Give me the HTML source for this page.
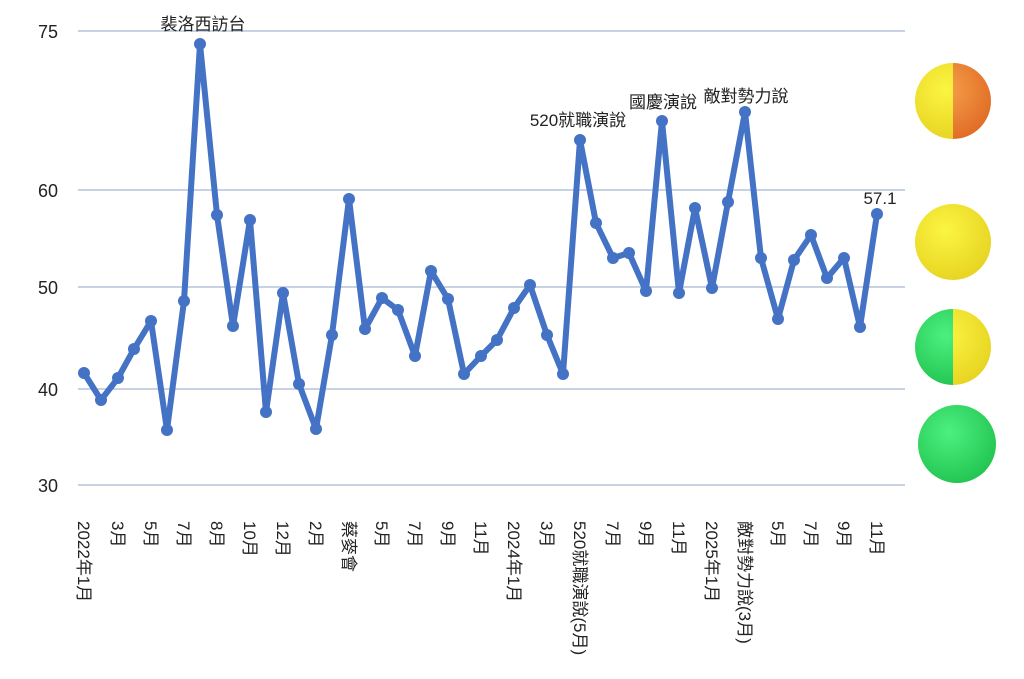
<!DOCTYPE html>
<html><head><meta charset="utf-8"><style>
body{margin:0;background:#fff}
svg{display:block;font-family:"Liberation Sans","Noto Sans CJK TC",sans-serif}
</style></head><body>
<svg width="1024" height="679" viewBox="0 0 1024 679">
<defs>
<radialGradient id="gy" cx="40%" cy="35%" r="70%"><stop offset="0" stop-color="#fbf542"/><stop offset="1" stop-color="#e7d321"/></radialGradient>
<radialGradient id="gg" cx="40%" cy="35%" r="70%"><stop offset="0" stop-color="#4cf07f"/><stop offset="1" stop-color="#22c450"/></radialGradient>
<radialGradient id="go" cx="40%" cy="35%" r="70%"><stop offset="0" stop-color="#f5a24a"/><stop offset="1" stop-color="#e06a25"/></radialGradient>
<clipPath id="L"><rect x="900" y="0" width="53" height="679"/></clipPath>
<clipPath id="R"><rect x="953" y="0" width="71" height="679"/></clipPath>
</defs>
<g stroke="#8fa7c4" stroke-width="1">
<line x1="78" y1="31" x2="905" y2="31"/><line x1="78" y1="190" x2="905" y2="190"/>
<line x1="78" y1="287" x2="905" y2="287"/><line x1="78" y1="389" x2="905" y2="389"/>
<line x1="78" y1="485" x2="905" y2="485"/>
</g>
<g font-size="18" fill="#222" text-anchor="end">
<text x="58" y="38">75</text><text x="58" y="197">60</text><text x="58" y="294">50</text><text x="58" y="396">40</text><text x="58" y="492">30</text>
</g>
<polyline fill="none" stroke="#4472c4" stroke-width="6" stroke-linejoin="round" points="84,373 101,400 118,378 134,349 151,321 167,430 184,301 200,44 217,215 233,326 250,220 266,412 283,293 299,384 316,429 332,335 349,199 365,329 382,298 398,310 415,356 431,271 448,299 464,374 481,356 497,340 514,308 530,285 547,335 563,374 580,140 596,223 613,258 629,253 646,291 662,121 679,293 695,208 712,288 728,202 745,112 761,258 778,319 794,260 811,235 827,278 844,258 860,327 877,214"/>
<g fill="#4472c4">
<circle cx="84" cy="373" r="6"/><circle cx="101" cy="400" r="6"/><circle cx="118" cy="378" r="6"/><circle cx="134" cy="349" r="6"/><circle cx="151" cy="321" r="6"/><circle cx="167" cy="430" r="6"/><circle cx="184" cy="301" r="6"/><circle cx="200" cy="44" r="6"/><circle cx="217" cy="215" r="6"/><circle cx="233" cy="326" r="6"/><circle cx="250" cy="220" r="6"/><circle cx="266" cy="412" r="6"/><circle cx="283" cy="293" r="6"/><circle cx="299" cy="384" r="6"/><circle cx="316" cy="429" r="6"/><circle cx="332" cy="335" r="6"/><circle cx="349" cy="199" r="6"/><circle cx="365" cy="329" r="6"/><circle cx="382" cy="298" r="6"/><circle cx="398" cy="310" r="6"/><circle cx="415" cy="356" r="6"/><circle cx="431" cy="271" r="6"/><circle cx="448" cy="299" r="6"/><circle cx="464" cy="374" r="6"/><circle cx="481" cy="356" r="6"/><circle cx="497" cy="340" r="6"/><circle cx="514" cy="308" r="6"/><circle cx="530" cy="285" r="6"/><circle cx="547" cy="335" r="6"/><circle cx="563" cy="374" r="6"/><circle cx="580" cy="140" r="6"/><circle cx="596" cy="223" r="6"/><circle cx="613" cy="258" r="6"/><circle cx="629" cy="253" r="6"/><circle cx="646" cy="291" r="6"/><circle cx="662" cy="121" r="6"/><circle cx="679" cy="293" r="6"/><circle cx="695" cy="208" r="6"/><circle cx="712" cy="288" r="6"/><circle cx="728" cy="202" r="6"/><circle cx="745" cy="112" r="6"/><circle cx="761" cy="258" r="6"/><circle cx="778" cy="319" r="6"/><circle cx="794" cy="260" r="6"/><circle cx="811" cy="235" r="6"/><circle cx="827" cy="278" r="6"/><circle cx="844" cy="258" r="6"/><circle cx="860" cy="327" r="6"/><circle cx="877" cy="214" r="6"/>
</g>
<g font-size="17" fill="#222" text-anchor="middle">
<text x="203" y="30">裴洛西訪台</text>
<text x="578" y="126">520就職演說</text>
<text x="663" y="108">國慶演說</text>
<text x="746" y="102">敵對勢力說</text>
<text x="880" y="204">57.1</text>
</g>
<g font-size="17" fill="#222">
<text transform="translate(78,521) rotate(90)">2022年1月</text>
<text transform="translate(112,521) rotate(90)">3月</text>
<text transform="translate(145,521) rotate(90)">5月</text>
<text transform="translate(178,521) rotate(90)">7月</text>
<text transform="translate(211,521) rotate(90)">8月</text>
<text transform="translate(244,521) rotate(90)">10月</text>
<text transform="translate(277,521) rotate(90)">12月</text>
<text transform="translate(310,521) rotate(90)">2月</text>
<text transform="translate(343,521) rotate(90)">蔡麥會</text>
<text transform="translate(376,521) rotate(90)">5月</text>
<text transform="translate(409,521) rotate(90)">7月</text>
<text transform="translate(442,521) rotate(90)">9月</text>
<text transform="translate(475,521) rotate(90)">11月</text>
<text transform="translate(508,521) rotate(90)">2024年1月</text>
<text transform="translate(541,521) rotate(90)">3月</text>
<text transform="translate(574,521) rotate(90)">520就職演說(5月)</text>
<text transform="translate(607,521) rotate(90)">7月</text>
<text transform="translate(640,521) rotate(90)">9月</text>
<text transform="translate(673,521) rotate(90)">11月</text>
<text transform="translate(706,521) rotate(90)">2025年1月</text>
<text transform="translate(739,521) rotate(90)">敵對勢力說(3月)</text>
<text transform="translate(772,521) rotate(90)">5月</text>
<text transform="translate(805,521) rotate(90)">7月</text>
<text transform="translate(838,521) rotate(90)">9月</text>
<text transform="translate(871,521) rotate(90)">11月</text>
</g>
<circle cx="953" cy="101" r="38" fill="url(#gy)" clip-path="url(#L)"/>
<circle cx="953" cy="101" r="38" fill="url(#go)" clip-path="url(#R)"/>
<circle cx="953" cy="242" r="38" fill="url(#gy)"/>
<circle cx="953" cy="347" r="38" fill="url(#gg)" clip-path="url(#L)"/>
<circle cx="953" cy="347" r="38" fill="url(#gy)" clip-path="url(#R)"/>
<circle cx="957" cy="444" r="39" fill="url(#gg)"/>
</svg>
</body></html>
